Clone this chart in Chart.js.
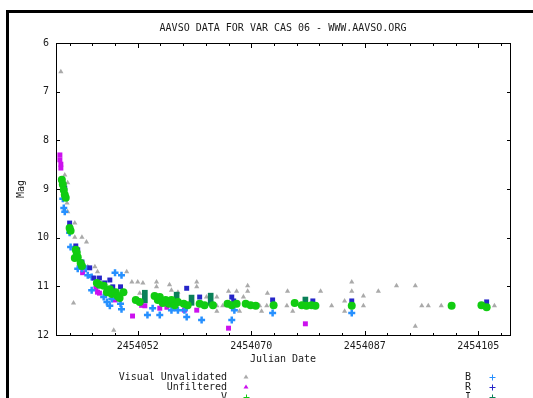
<!DOCTYPE html>
<html>
<head>
<meta charset="utf-8">
<title>AAVSO data for V Cas 06</title>
<script src="https://cdn.jsdelivr.net/npm/chart.js@4.4.0/dist/chart.umd.min.js"></script>
<style>
html, body { margin: 0; padding: 0; background: #fff; }
</style>
</head>
<body>
<canvas id="lightCurve" width="533" height="398"></canvas>
<script>
var visualObs = [
  [2454040.35, 6.59], [2454040.95, 8.71], [2454041.4, 8.87], [2454041.3, 9.29], [2454041.4, 9.47],
  [2454042.5, 9.70], [2454042.5, 9.99], [2454043.6, 9.99], [2454044.3, 10.09], [2454043.6, 10.50],
  [2454044.5, 10.60], [2454045.6, 10.60], [2454046.0, 10.70], [2454042.3, 11.34], [2454048.5, 11.90],
  [2454050.5, 10.70], [2454051.3, 10.91], [2454052.2, 10.91], [2454053.0, 10.93], [2454052.5, 11.14],
  [2454055.1, 10.91], [2454055.1, 11.01], [2454057.1, 10.97], [2454057.4, 11.08], [2454058.4, 11.12],
  [2454061.3, 10.91], [2454061.3, 11.01], [2454062.8, 11.22], [2454064.4, 11.22], [2454064.4, 11.40],
  [2454065.3, 11.40], [2454064.4, 11.51], [2454066.2, 11.10], [2454067.45, 11.10], [2454069.15, 10.99],
  [2454069.15, 11.10], [2454068.5, 11.22], [2454067.9, 11.51], [2454071.0, 11.40], [2454071.3, 11.51],
  [2454072.2, 11.14], [2454072.1, 11.40], [2454075.3, 11.10], [2454075.2, 11.40], [2454076.1, 11.51],
  [2454080.4, 11.10], [2454082.1, 11.40], [2454084.1, 11.30], [2454084.1, 11.51], [2454085.2, 10.91],
  [2454085.2, 11.10], [2454087.0, 11.20], [2454087.0, 11.40], [2454089.3, 11.10], [2454092.1, 10.99],
  [2454095.0, 10.99], [2454095.0, 11.82], [2454096.0, 11.40], [2454097.0, 11.40], [2454099.0, 11.40],
  [2454107.2, 11.40]
];
var unfilteredObs = [
  [2454040.2, 8.30], [2454040.2, 8.40], [2454040.35, 8.49], [2454040.35, 8.57], [2454043.7, 10.72],
  [2454045.75, 11.04], [2454046.0, 11.12], [2454046.3, 11.14], [2454048.7, 11.28], [2454051.4, 11.61],
  [2454052.8, 11.39], [2454053.3, 11.40], [2454055.6, 11.45], [2454056.7, 11.43], [2454059.4, 11.49],
  [2454061.3, 11.49], [2454066.2, 11.86], [2454078.05, 11.77]
];
var vObs = [
  [2454040.5, 8.81], [2454040.65, 8.91], [2454040.8, 9.02], [2454040.95, 9.12], [2454041.1, 9.18],
  [2454041.7, 9.80], [2454041.85, 9.86], [2454042.65, 10.25], [2454042.8, 10.31], [2454042.5, 10.42],
  [2454042.95, 10.40], [2454043.4, 10.52], [2454043.6, 10.58], [2454045.9, 10.93], [2454046.3, 10.97],
  [2454046.95, 10.99], [2454047.45, 11.12], [2454047.9, 11.06], [2454048.2, 11.16], [2454048.8, 11.12],
  [2454049.1, 11.20], [2454049.4, 11.24], [2454050.0, 11.12], [2454051.9, 11.28], [2454052.5, 11.32],
  [2454054.8, 11.20], [2454055.3, 11.28], [2454055.6, 11.22], [2454056.05, 11.34], [2454056.5, 11.28],
  [2454057.0, 11.36], [2454057.4, 11.28], [2454057.9, 11.39], [2454058.4, 11.32], [2454059.3, 11.36],
  [2454059.9, 11.39], [2454061.75, 11.36], [2454062.5, 11.39], [2454063.8, 11.39], [2454066.05, 11.36],
  [2454066.7, 11.39], [2454067.45, 11.36], [2454068.85, 11.36], [2454069.6, 11.39], [2454070.4, 11.40],
  [2454073.15, 11.39], [2454076.4, 11.34], [2454077.5, 11.39], [2454078.2, 11.40], [2454079.0, 11.39],
  [2454079.6, 11.40], [2454085.2, 11.40], [2454100.6, 11.40], [2454105.2, 11.39], [2454106.0, 11.43]
];
var bObs = [
  [2454040.65, 9.20], [2454040.8, 9.39], [2454040.95, 9.47], [2454041.7, 9.90], [2454041.85, 10.19],
  [2454042.8, 10.40], [2454042.95, 10.64], [2454043.6, 10.64], [2454044.2, 10.64], [2454044.5, 10.77],
  [2454045.1, 10.81], [2454045.1, 11.08], [2454046.95, 11.22], [2454047.45, 11.32], [2454047.9, 11.40],
  [2454048.2, 11.26], [2454048.7, 10.72], [2454049.7, 10.77], [2454049.55, 11.36], [2454049.7, 11.47],
  [2454053.7, 11.59], [2454054.5, 11.45], [2454055.6, 11.59], [2454057.4, 11.49], [2454058.4, 11.49],
  [2454059.4, 11.49], [2454059.75, 11.63], [2454062.05, 11.69], [2454067.1, 11.49], [2454066.7, 11.69],
  [2454073.0, 11.55], [2454085.2, 11.55]
];
var rObs = [
  [2454040.95, 8.98], [2454041.7, 9.70], [2454042.65, 10.17], [2454042.95, 10.25], [2454043.6, 10.50],
  [2454044.8, 10.62], [2454045.45, 10.83], [2454046.3, 10.83], [2454047.1, 10.93], [2454047.9, 10.87],
  [2454048.35, 11.01], [2454049.55, 11.01], [2454059.75, 11.04], [2454061.75, 11.22], [2454066.7, 11.22],
  [2454067.0, 11.30], [2454073.0, 11.28], [2454079.2, 11.30], [2454085.2, 11.30], [2454106.0, 11.32]
];
// I band points carry error bars: [julian date, bright end, faint end]
var iObs = [
  [2454053.3, 11.08, 11.34], [2454058.2, 11.12, 11.39], [2454060.5, 11.18, 11.39],
  [2454063.45, 11.14, 11.39], [2454078.05, 11.22, 11.39]
];

var seriesNames = ['Visual Unvalidated', 'Unfiltered', 'V', 'B', 'R', 'I'];
var xTickValues = [2454052.2, 2454069.7, 2454087.2, 2454104.7];
var xTickLabels = ['2454052', '2454070', '2454087', '2454105'];
var xMinorTicks = [2454041.7, 2454045.2, 2454048.7, 2454055.7, 2454059.2, 2454062.7, 2454066.2,
  2454073.2, 2454076.7, 2454080.2, 2454083.7, 2454090.7, 2454094.2, 2454097.7, 2454101.2, 2454108.2];
var yTickValues = [6, 7, 8, 9, 10, 11, 12];

var FONT = '"DejaVu Sans Mono", monospace';
var INK = '#1a1a1a';
Chart.defaults.font.family = FONT;
Chart.defaults.font.size = 10;
Chart.defaults.color = INK;

// thin box around the plot with inward tick marks, plus the page border
var frameTicks = {
  id: 'frameTicks',
  afterDraw: function(chart) {
    var ctx = chart.ctx, a = chart.chartArea;
    var xs = chart.scales.x, ys = chart.scales.y;
    ctx.save();
    ctx.fillStyle = '#000';
    ctx.fillRect(6, 10, 3, chart.height - 10);
    ctx.fillRect(6, 10, chart.width - 6, 3);

    ctx.strokeStyle = '#000';
    ctx.lineWidth = 1;
    ctx.strokeRect(a.left + 0.5, a.top + 0.5, a.right - a.left, a.bottom - a.top);

    ctx.beginPath();
    function xTick(v, len) {
      var px = Math.round(xs.getPixelForValue(v)) + 0.5;
      ctx.moveTo(px, a.top); ctx.lineTo(px, a.top + len);
      ctx.moveTo(px, a.bottom + 1); ctx.lineTo(px, a.bottom + 1 - len);
    }
    xTickValues.forEach(function(v) { xTick(v, 5); });
    xMinorTicks.forEach(function(v) { xTick(v, 3); });
    yTickValues.forEach(function(v) {
      var py = Math.round(ys.getPixelForValue(v)) + 0.5;
      ctx.moveTo(a.left, py); ctx.lineTo(a.left + 4, py);
      ctx.moveTo(a.right + 1, py); ctx.lineTo(a.right - 3, py);
    });
    ctx.stroke();
    ctx.restore();
  }
};

function drawKey(ctx, shape, color, x, y) {
  ctx.fillStyle = color;
  ctx.strokeStyle = color;
  ctx.lineWidth = 1;
  if (shape === 'triangle') {
    ctx.beginPath();
    ctx.moveTo(x, y - 2.5);
    ctx.lineTo(x + 2.5, y + 1.5);
    ctx.lineTo(x - 2.5, y + 1.5);
    ctx.closePath();
    ctx.fill();
  } else {
    ctx.beginPath();
    ctx.moveTo(x - 2.5, y + 0.5); ctx.lineTo(x + 3.5, y + 0.5);
    ctx.moveTo(x + 0.5, y - 2.5); ctx.lineTo(x + 0.5, y + 3.5);
    ctx.stroke();
  }
}

// two-column key under the axis title, labels right-aligned before the symbol
var keyRows = {
  id: 'keyRows',
  afterDraw: function(chart) {
    var ctx = chart.ctx;
    var sets = chart.data.datasets;
    ctx.save();
    ctx.font = '10px ' + FONT;
    ctx.textAlign = 'right';
    ctx.textBaseline = 'middle';
    for (var i = 0; i < sets.length; i++) {
      var right = i >= 3;
      var ty = 377 + (i % 3) * 10;
      ctx.fillStyle = INK;
      ctx.fillText(sets[i].label, right ? 471 : 227, ty);
      drawKey(ctx, sets[i].keyShape, sets[i].keyColor, right ? 492 : 246, ty);
    }
    ctx.restore();
  }
};

var ctx = document.getElementById('lightCurve').getContext('2d');
var lightCurve = new Chart(ctx, {
  type: 'scatter',
  data: {
    datasets: [
      {
        label: seriesNames[0], data: visualObs, order: 6,
        pointStyle: 'triangle', pointRadius: 3, borderWidth: 0,
        backgroundColor: '#aaaaaa', borderColor: '#aaaaaa',
        keyShape: 'triangle', keyColor: '#aaaaaa'
      },
      {
        label: seriesNames[1], data: unfilteredObs, order: 4,
        pointStyle: 'rect', pointRadius: 3.5, borderWidth: 0,
        backgroundColor: '#cc11ee', borderColor: '#cc11ee',
        keyShape: 'triangle', keyColor: '#cc11ee'
      },
      {
        label: seriesNames[2], data: vObs, order: 1,
        pointStyle: 'circle', pointRadius: 4, borderWidth: 0,
        backgroundColor: '#11cc11', borderColor: '#11cc11',
        keyShape: 'plus', keyColor: '#11cc11'
      },
      {
        label: seriesNames[3], data: bObs, order: 3,
        pointStyle: 'cross', pointRadius: 3.5, borderWidth: 2.5,
        backgroundColor: '#2690ff', borderColor: '#2690ff',
        keyShape: 'plus', keyColor: '#2690ff'
      },
      {
        label: seriesNames[4], data: rObs, order: 2,
        pointStyle: 'rect', pointRadius: 3.5, borderWidth: 0,
        backgroundColor: '#2626c8', borderColor: '#2626c8',
        keyShape: 'plus', keyColor: '#2626c8'
      },
      {
        type: 'bar', label: seriesNames[5], order: 5,
        data: iObs.map(function(p) { return { x: p[0], y: [p[1], p[2]] }; }),
        barThickness: 5, borderWidth: 0,
        backgroundColor: '#0a8058', borderColor: '#0a8058',
        keyShape: 'plus', keyColor: '#0a8058'
      }
    ]
  },
  options: {
    responsive: false,
    animation: false,
    layout: { padding: { left: 8, right: 23, top: 10, bottom: 0 } },
    plugins: {
      legend: { display: false },
      tooltip: { enabled: false },
      title: {
        display: true,
        fullSize: false,
        text: 'AAVSO DATA FOR VAR CAS 06 - WWW.AAVSO.ORG',
        color: INK,
        font: { size: 10, weight: 'normal', lineHeight: 1.2 },
        padding: { top: 12, bottom: 9 }
      }
    },
    scales: {
      x: {
        type: 'linear',
        offset: false,
        min: 2454039.6,
        max: 2454109.6,
        grid: { display: false, offset: false, drawTicks: false },
        border: { display: false },
        afterBuildTicks: function(s) {
          s.ticks = xTickValues.map(function(v) { return { value: v }; });
        },
        afterFit: function(s) {
          s.height = 63;
          s.paddingLeft = 0; s.paddingRight = 0;
        },
        ticks: {
          padding: 5,
          maxRotation: 0,
          autoSkip: false,
          callback: function(v) {
            var k = xTickValues.indexOf(v);
            return k >= 0 ? xTickLabels[k] : '';
          }
        },
        title: { display: true, text: 'Julian Date', padding: { top: 0, bottom: 33 } }
      },
      y: {
        reverse: true,
        min: 6,
        max: 12,
        grid: { display: false, drawTicks: false },
        border: { display: false },
        afterBuildTicks: function(s) {
          s.ticks = yTickValues.map(function(v) { return { value: v }; });
        },
        afterFit: function(s) {
          s.width = 48;
          s.paddingTop = 0; s.paddingBottom = 0;
        },
        ticks: { padding: 7 },
        title: { display: true, text: 'Mag', padding: { top: 7.5, bottom: 0 } }
      }
    }
  },
  plugins: [frameTicks, keyRows]
});
</script>
</body>
</html>
